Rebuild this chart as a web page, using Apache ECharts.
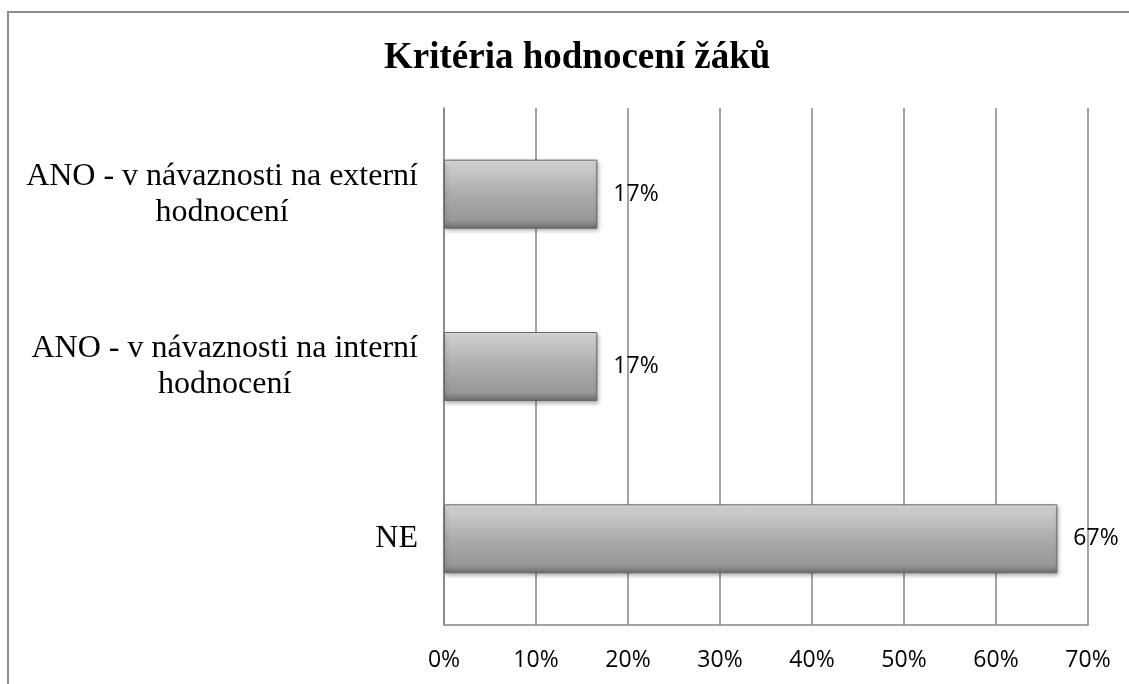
<!DOCTYPE html>
<html>
<head>
    <meta charset="utf-8">
    <title>Kritéria hodnocení žáků</title>
    <script src="https://cdn.jsdelivr.net/npm/echarts@6/dist/echarts.min.js"></script>
    <style>
        body { margin: 0; background: #fff; }
    </style>
</head>
<body>
<div id="main" style="width: 1129px;height:684px;"></div>
<script type="text/javascript">
    // data (bottom to top, as the axis draws them)
    var categories = [
        'NE',
        'ANO - v návaznosti na interní hodnocení',
        'ANO - v návaznosti na externí hodnocení'
    ];
    var percentValues = [66.67, 16.67, 16.67];
    var axisTicks = [0, 10, 20, 30, 40, 50, 60, 70];

    var chartDom = document.getElementById('main');
    var myChart = echarts.init(chartDom);

    // wrap long category names before the last word
    function wrapLabel(value) {
        var lines = [value];
        if (value.length > 20) {
            var cut = value.lastIndexOf(' ');
            lines = [value.slice(0, cut), value.slice(cut + 1)];
        }
        return lines.map(function (l) { return '{c|' + l + '}'; }).join('\n');
    }

    var option = {
        animation: false,
        title: {
            text: 'Kritéria hodnocení žáků',
            left: 379,
            top: 35,
            textStyle: {
                fontFamily: 'Liberation Serif',
                fontSize: 37,
                fontWeight: 'bold',
                color: '#000'
            }
        },
        graphic: [{
            type: 'rect',
            silent: true,
            shape: { x: 8, y: 12, width: 1300, height: 900 },
            style: { fill: 'none', stroke: '#8c8c8c', lineWidth: 2 }
        }],
        grid: {
            left: 444,
            right: 41,
            top: 108,
            bottom: 59,
            containLabel: false
        },
        xAxis: {
            type: 'value',
            min: axisTicks[0],
            max: axisTicks[axisTicks.length - 1],
            interval: 10,
            axisLine: { show: true, lineStyle: { color: '#868686', width: 1.5 } },
            axisTick: { show: false },
            splitLine: { show: true, lineStyle: { color: '#868686', width: 1.5 } },
            axisLabel: {
                formatter: '{value}%',
                color: '#000',
                fontFamily: 'Open Sans',
                fontSize: 23,
                margin: 24
            }
        },
        yAxis: {
            type: 'category',
            data: categories,
            axisLine: { show: true, lineStyle: { color: '#868686', width: 1.5 } },
            axisTick: { show: false },
            axisLabel: {
                margin: 26,
                align: 'right',
                formatter: wrapLabel,
                rich: {
                    c: {
                        align: 'center',
                        fontFamily: 'Liberation Serif',
                        fontSize: 32,
                        lineHeight: 36,
                        color: '#000'
                    }
                }
            }
        },
        series: [{
            type: 'bar',
            data: percentValues,
            barWidth: 69,
            itemStyle: {
                color: new echarts.graphic.LinearGradient(0, 0, 0, 1, [
                    { offset: 0, color: '#e4e4e4' },
                    { offset: 0.1, color: '#cbcbcb' },
                    { offset: 0.5, color: '#acacac' },
                    { offset: 0.88, color: '#979797' },
                    { offset: 1, color: '#6c6c6c' }
                ]),
                borderColor: '#666666',
                borderWidth: 1,
                shadowColor: 'rgba(0,0,0,0.3)',
                shadowBlur: 4,
                shadowOffsetX: 1,
                shadowOffsetY: 2
            },
            label: {
                show: true,
                position: 'right',
                distance: 16,
                formatter: function (p) { return Math.round(p.value) + '%'; },
                color: '#000',
                fontFamily: 'Open Sans',
                fontSize: 23
            }
        }]
    };

    myChart.setOption(option);
</script>
</body>
</html>
